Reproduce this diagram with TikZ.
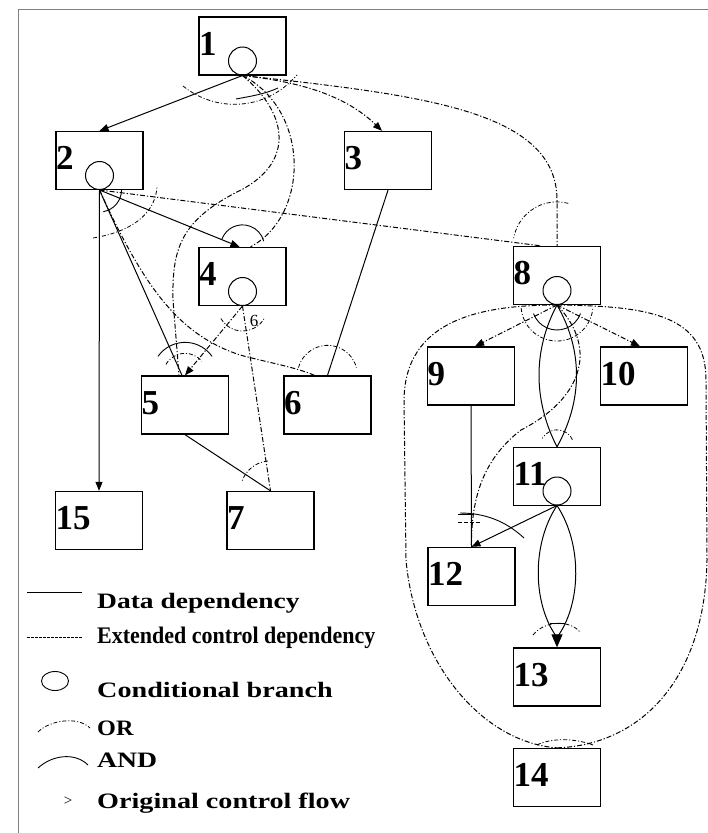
\documentclass[tikz,border=0pt]{standalone}
\usepackage{fontspec}
\usepackage{graphicx}
\setmainfont{Liberation Serif}
\usetikzlibrary{arrows.meta,calc}
\tikzset{
 box/.style={draw, line width=1.3pt, minimum width=87pt, minimum height=58pt, inner sep=0pt},
 cond/.style={draw, circle, line width=1pt, minimum size=28pt, inner sep=0pt},
 num/.style={font=\fontsize{35}{35}\selectfont\bfseries, inner sep=0pt, anchor=base west},
 data/.style={line width=1pt},
 ctrl/.style={line width=1pt, dash pattern=on 5pt off 2pt on 1.2pt off 2pt},
 arr/.style={-{Triangle[length=9pt,width=7pt]}},
 bigarr/.style={-{Triangle[length=13pt,width=11pt]}},
 orarc/.style={line width=0.8pt, dash pattern=on 4pt off 2pt on 1pt off 2pt},
 andarc/.style={line width=0.9pt},
 legtext/.style={font=\fontsize{22}{22}\selectfont\bfseries, inner sep=0pt, anchor=base west},
}
\begin{document}
\begin{tikzpicture}[x=1pt,y=-1pt]
\useasboundingbox (0,0) rectangle (708,833);
% frame
\draw[gray, line width=0.8pt] (18,833) -- (18,9) -- (708,9);
% boxes
\node[box] (b1) at (242.5,46) {};
\node[box] (b2) at (99.5,160.5) {};
\node[box] (b3) at (388,160.5) {};
\node[box] (b4) at (242.5,276.5) {};
\node[box] (b5) at (185,405) {};
\node[box] (b6) at (327.5,405) {};
\node[box] (b7) at (270.5,520.5) {};
\node[box] (b15) at (99,520.5) {};
\node[box] (b8) at (557,275.5) {};
\node[box] (b9) at (471,376) {};
\node[box] (b10) at (644,376) {};
\node[box] (b11) at (557,476.5) {};
\node[box] (b12) at (471.5,576.5) {};
\node[box] (b13) at (557,677) {};
\node[box] (b14) at (557,777.5) {};
% conditional branches
\node[cond] (c1) at (242.5,61) {};
\node[cond] (c2) at (99.5,175.5) {};
\node[cond] (c4) at (242.5,291.5) {};
\node[cond] (c8) at (557,290.5) {};
\node[cond] (c11) at (557,491) {};
% labels
\foreach \b/\t in {b1/1,b2/2,b3/3,b4/4,b5/5,b6/6,b7/7,b15/15,b8/8,b9/9,b10/10,b11/11,b12/12,b13/13,b14/14}
  \node[num] (l\b) at ($(\b.north west)+(0.5,39)$) {\t};
% data dependencies (solid)
\draw[data,arr] (c1.south) -- (b2.north);
\draw[data,arr] (c2.south) -- (b15.north);
\draw[data,arr] (c2.south) -- ($(b4.north)+(-3,0)$);
\draw[data] (c2.south) -- ($(b5.north)+(-3,0)$);
\draw[data] (b3.south) -- (b6.north);
\draw[data] (b5.south) -- (b7.north);
\draw[data] (b9.south) -- (b12.north);
\draw[data,arr] (c11.south) -- (b12.north);
\draw[data] (c8.south) .. controls (533,350) and (533,400) .. (b11.north);
\draw[data] (c8.south) .. controls (583,350) and (583,400) .. (b11.north);
\draw[data] (c11.south) .. controls (531,545) and (533,605) .. ($(b13.north)+(0,-10)$);
\draw[data,bigarr] (c11.south) .. controls (583,545) and (581,605) .. ($(b13.north)+(0,-10)$) -- (b13.north);
% extended control dependencies
\draw[ctrl,arr] (c1.south) .. controls (300,82) and (345,95) .. ($(b3.north)+(-6,0)$);
\draw[ctrl] (c1.south) .. controls (420,95) and (557,110) .. (557,200) -- (b8.north);
\draw[ctrl] (c1.south) .. controls (310,110) and (310,215) .. ($(b4.north)+(8,0)$);
\draw[ctrl] (c1.south) .. controls (290,115) and (295,165) .. (235,193)
   .. controls (180,222) and (172,250) .. (173,300) -- ($(b5.north)+(-6,0)$);
\draw[ctrl] (c2.south) -- ($(b8.north)+(-16,0)$);
\draw[ctrl] (c2.south) .. controls (145,290) and (180,335) .. (240,355)
   .. controls (270,363) and (295,367) .. ($(b6.north)+(-13,0)$);
\draw[ctrl,arr] (c4.south) -- (b5.north);
\draw[ctrl] (c4.south) -- (b7.north);
\draw[ctrl,arr] (c8.south) -- ($(b9.north)+(4,0)$);
\draw[ctrl,arr] (c8.south) -- ($(b10.north)+(-4,0)$);
\draw[ctrl] (c8.south) .. controls (600,350) and (580,400) .. (521,430)
   .. controls (482,460) and (471,500) .. (b12.north);
\draw[ctrl] (c8.south) .. controls (480,305) and (405,320) .. (404,400) -- (406,560)
   .. controls (415,660) and (480,742) .. (b14.north);
\draw[ctrl] (c8.south) .. controls (650,306) and (706,315) .. (706,380) -- (707,560)
   .. controls (705,680) and (640,745) .. (b14.north);
% OR / AND arcs
\draw[orarc] (183,86) .. controls (215,112) and (265,112) .. (297,75);
\draw[andarc] (236,99) .. controls (252,96) and (265,94) .. (278,88);
\draw[orarc] (93,238) .. controls (130,232) and (155,215) .. (157,187);
\draw[andarc] ([shift={(0:22pt)}]c2.south) arc[start angle=0,end angle=-80,radius=22pt];
\draw[andarc] ([shift={(160:22pt)}]b4.north) arc[start angle=160,end angle=15,radius=22pt];
\draw[orarc] ([shift={(-150:25pt)}]c4.south) arc[start angle=-150,end angle=-30,radius=25pt];
\node[font=\fontsize{17}{17}\selectfont, inner sep=0pt] (six) at (254,321) {6};
\draw[andarc] ([shift={(145:33pt)}]b5.north) arc[start angle=145,end angle=35,radius=33pt];
\draw[orarc] ([shift={(150:22pt)}]b5.north) arc[start angle=150,end angle=40,radius=22pt];
\draw[orarc] ([shift={(165:30pt)}]b6.north) arc[start angle=165,end angle=15,radius=30pt];
\draw[orarc] ([shift={(95:30pt)}]b7.north) arc[start angle=95,end angle=160,radius=30pt];
\draw[orarc] ([shift={(75:44pt)}]b8.north) arc[start angle=75,end angle=170,radius=44pt];
\draw[orarc] ([shift={(185:36pt)}]c8.south) arc[start angle=185,end angle=355,radius=36pt];
\draw[andarc] ([shift={(200:25pt)}]c8.south) arc[start angle=200,end angle=340,radius=25pt];
\draw[orarc] ([shift={(25:17pt)}]b11.north) arc[start angle=25,end angle=150,radius=17pt];
\draw[andarc] (460,513) .. controls (490,513) and (510,525) .. (524,538);
\draw[andarc] (458,514) -- (474,514);
\draw[andarc, dash pattern=on 4pt off 2pt] (458,522) -- (480,522);
\draw[orarc] (533,635) .. controls (545,620) and (570,620) .. (580,632);
\draw[andarc] (550,623) -- (565,623);
\draw[orarc] (537,745) .. controls (550,738) and (575,738) .. (593,745);
% legend
\draw[data] (27,592) -- (82,592);
\node[legtext] (t1) at (97,608) {\scalebox{1.25}[1]{Data dependency}};
\draw[line width=0.9pt, dash pattern=on 2.5pt off 1.5pt] (27,637) -- (82,637);
\node[legtext] (t2) at (97,643) {\scalebox{1}[1.08]{Extended control dependency}};
\draw[line width=0.9pt] (55,681) ellipse [x radius=13.5pt, y radius=9.5pt];
\node[legtext] (t3) at (97,697) {\scalebox{1.28}[1]{Conditional branch}};
\draw[orarc] (38,732) .. controls (50,720) and (78,716) .. (90,728);
\node[legtext] (t4) at (97,735) {\scalebox{1.1}[1]{OR}};
\draw[andarc] (38,768) .. controls (52,755) and (75,752) .. (88,765);
\node[legtext] (t5) at (97,767) {\scalebox{1.26}[1]{AND}};
\node[font=\fontsize{15}{15}\selectfont, inner sep=0pt] (gt) at (68,801) {>};
\node[legtext] (t6) at (97,808) {\scalebox{1.28}[1]{Original control flow}};
\end{tikzpicture}
\end{document}
